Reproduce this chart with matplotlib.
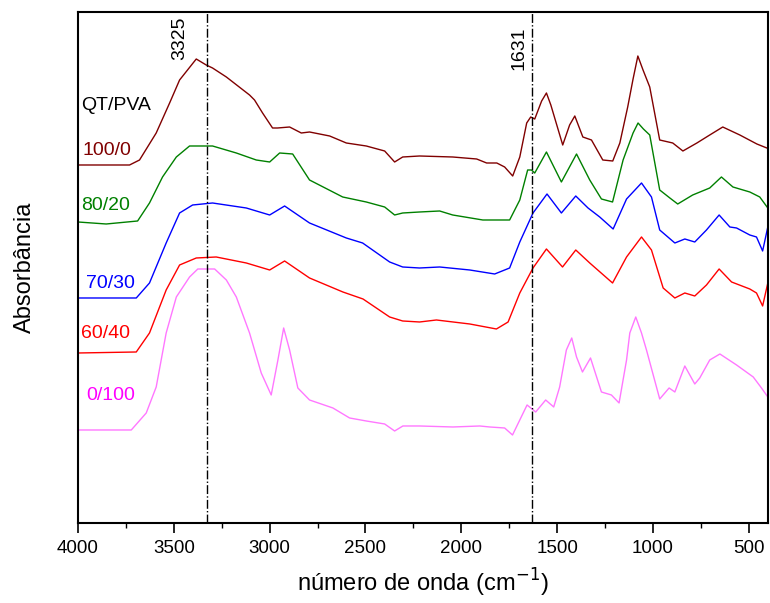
import matplotlib.pyplot as plt
import numpy as np
from matplotlib.ticker import MultipleLocator

plt.rcParams['font.family'] = ['Liberation Sans', 'DejaVu Sans']

# espectros FTIR (numero de onda, absorbancia arbitraria)
wn_100_0 = [4000, 3731, 3679, 3592, 3522, 3470, 3383, 3331, 3298, 3226, 3105, 3079, 3037, 2985, 2959,
            2896, 2835, 2792, 2687, 2600, 2496, 2400, 2348, 2306, 2218, 2045, 1920, 1868, 1815, 1774,
            1732, 1695, 1659, 1638, 1617, 1581, 1556, 1533, 1471, 1435, 1408, 1366, 1321, 1262, 1210, 1173, 1132,
            1104, 1079, 1052, 1017, 965, 897, 844, 771, 704, 636, 547, 458, 406]
ab_100_0 = [1.79, 1.79, 1.815, 1.95, 2.10, 2.215, 2.32, 2.29, 2.275, 2.23, 2.14, 2.115, 2.05, 1.975, 1.975,
            1.98, 1.95, 1.955, 1.935, 1.90, 1.885, 1.86, 1.805, 1.83, 1.835, 1.83, 1.82, 1.80, 1.80, 1.78,
            1.735, 1.83, 2.00, 2.03, 2.02, 2.11, 2.15, 2.09, 1.89, 1.99, 2.035, 1.93, 1.915, 1.815, 1.81, 1.90, 2.08,
            2.22, 2.335, 2.265, 2.18, 1.915, 1.90, 1.86, 1.90, 1.94, 1.98, 1.94, 1.895, 1.875]

wn_80_20 = [4000, 3853, 3689, 3627, 3559, 3487, 3418, 3298, 3174, 3070, 3000, 2948, 2880, 2792, 2619,
            2496, 2400, 2348, 2306, 2218, 2113, 2045, 1888, 1748, 1695, 1654, 1634, 1617, 1556, 1478,
            1399, 1330, 1269, 1211, 1156, 1104, 1078, 1050, 1017, 965, 912, 871, 793, 704, 643, 583, 495, 443, 401]
ab_80_20 = [1.505, 1.495, 1.51, 1.60, 1.73, 1.83, 1.885, 1.885, 1.85, 1.815, 1.805, 1.85, 1.845, 1.715, 1.63,
            1.605, 1.58, 1.54, 1.55, 1.555, 1.56, 1.54, 1.515, 1.515, 1.615, 1.765, 1.765, 1.75, 1.855, 1.705,
            1.845, 1.715, 1.62, 1.605, 1.815, 1.95, 2.00, 1.97, 1.94, 1.665, 1.625, 1.595, 1.64, 1.675, 1.73, 1.68, 1.655,
            1.63, 1.575]

wn_70_30 = [4000, 3696, 3627, 3540, 3470, 3402, 3298, 3122, 3000, 2922, 2792, 2600, 2515, 2374, 2306,
            2218, 2113, 1956, 1826, 1748, 1695, 1626, 1553, 1478, 1403, 1339, 1278, 1208, 1138, 1060,
            1008, 965, 886, 834, 782, 721, 655, 599, 564, 495, 460, 428, 401]
ab_70_30 = [1.125, 1.125, 1.20, 1.40, 1.55, 1.59, 1.60, 1.575, 1.54, 1.585, 1.50, 1.425, 1.40, 1.305, 1.28,
            1.275, 1.28, 1.265, 1.245, 1.275, 1.405, 1.55, 1.645, 1.55, 1.635, 1.575, 1.53, 1.47, 1.62, 1.70,
            1.63, 1.465, 1.40, 1.42, 1.405, 1.465, 1.54, 1.48, 1.475, 1.44, 1.43, 1.36, 1.48]

wn_60_40 = [4000, 3696, 3627, 3540, 3470, 3383, 3279, 3122, 3000, 2922, 2792, 2618, 2513, 2374, 2306,
            2218, 2130, 1956, 1817, 1756, 1695, 1626, 1556, 1472, 1403, 1330, 1211, 1138, 1060, 1008,
            947, 886, 834, 782, 721, 655, 590, 495, 460, 428, 401]
ab_60_40 = [0.85, 0.855, 0.95, 1.165, 1.29, 1.325, 1.33, 1.30, 1.265, 1.31, 1.225, 1.155, 1.12, 1.03, 1.01,
            1.005, 1.015, 0.995, 0.97, 1.005, 1.15, 1.275, 1.37, 1.28, 1.365, 1.30, 1.20, 1.33, 1.43, 1.365,
            1.175, 1.125, 1.15, 1.135, 1.19, 1.27, 1.205, 1.17, 1.15, 1.085, 1.20]

wn_0_100 = [4000, 3722, 3644, 3592, 3540, 3487, 3418, 3375, 3287, 3226, 3174, 3105, 3044, 2992, 2957,
            2927, 2896, 2853, 2792, 2670, 2583, 2496, 2400, 2348, 2305, 2218, 2044, 1904, 1852, 1774,
            1733, 1695, 1657, 1612, 1560, 1518, 1487, 1452, 1424, 1399, 1368, 1326, 1269, 1217, 1177, 1138,
            1121, 1090, 1060, 1034, 965, 916, 886, 834, 782, 756, 704, 651, 564, 477, 434, 401]
ab_0_100 = [0.465, 0.465, 0.55, 0.68, 0.95, 1.13, 1.23, 1.27, 1.27, 1.215, 1.13, 0.95, 0.75, 0.64, 0.815,
            0.975, 0.865, 0.675, 0.615, 0.575, 0.525, 0.51, 0.495, 0.46, 0.485, 0.485, 0.48, 0.485, 0.48, 0.475,
            0.44, 0.515, 0.59, 0.555, 0.615, 0.58, 0.68, 0.865, 0.925, 0.83, 0.755, 0.825, 0.655, 0.64, 0.60, 0.815,
            0.95, 1.03, 0.95, 0.865, 0.62, 0.675, 0.655, 0.785, 0.695, 0.725, 0.815, 0.845, 0.79, 0.73, 0.675, 0.63]

nomes = ["100/0", "80/20", "70/30", "60/40", "0/100"]
cores_linha = ["#800000", "#008000", "#0000FF", "#FF0000", "#FF77FF"]
cores_texto = ["#800000", "#008000", "#0000FF", "#FF0000", "#FF00FF"]
texto_x = [3977, 3982, 3956, 3982, 3956]
texto_y = [1.86, 1.585, 1.195, 0.945, 0.635]
picos = [3325, 1631]
picos_x = [3470, 1698]
picos_y = [2.53, 2.48]

fig = plt.figure(figsize=(7.70, 6.03), dpi=100)
ax = fig.add_axes([0.1013, 0.1327, 0.8961, 0.8474])

espectros = [(wn_100_0, ab_100_0), (wn_80_20, ab_80_20), (wn_70_30, ab_70_30),
             (wn_60_40, ab_60_40), (wn_0_100, ab_0_100)]
for (x, y), c in zip(espectros, cores_linha):
    ax.plot(x, y, color=c, lw=1.0)

for p, px, py in zip(picos, picos_x, picos_y):
    ax.axvline(p, color="black", lw=1.0, ls="-.")
    ax.text(px, py, str(p), rotation=90, ha="center", va="top", fontsize=14)

ax.text(3982, 2.085, "QT/PVA", fontsize=14, ha="left", va="center")
for n, c, xx, yy in zip(nomes, cores_texto, texto_x, texto_y):
    ax.text(xx, yy, n, color=c, fontsize=14, ha="left", va="center")

ax.set_xlim(4000, 400)
ax.set_ylim(0, 2.555)
ax.xaxis.set_major_locator(MultipleLocator(500))
ax.xaxis.set_minor_locator(MultipleLocator(250))
ax.tick_params(axis="x", which="major", direction="out", length=7, width=1.2, labelsize=13.5, pad=5)
ax.tick_params(axis="x", which="minor", direction="out", length=3.6, width=1.0)
ax.set_yticks([])
for s in ax.spines.values():
    s.set_linewidth(1.5)

ax.set_xlabel("número de onda (cm$^{-1}$)", fontsize=17, labelpad=7)
ax.set_ylabel("Absorbância", fontsize=17, labelpad=30)

fig.savefig("out.png", dpi=100)
